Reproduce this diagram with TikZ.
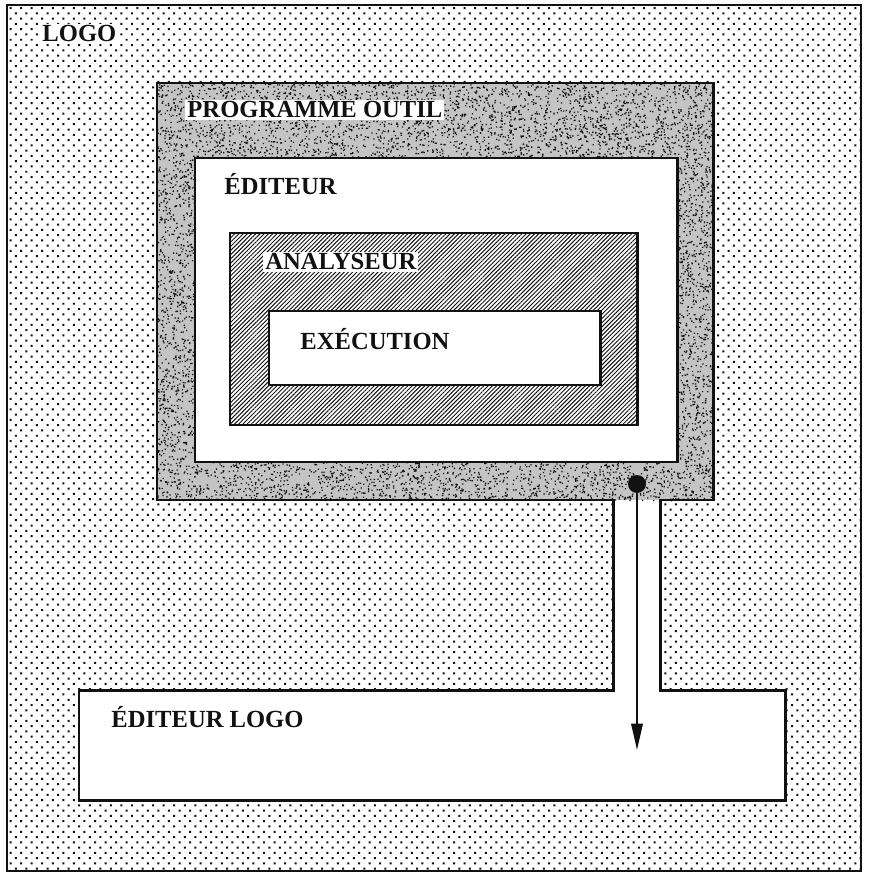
\documentclass[tikz,border=0pt]{standalone}
\usepackage{fontspec}
\setmainfont{Liberation Serif}
\usetikzlibrary{arrows.meta,patterns.meta}
\definecolor{ink}{HTML}{111111}
\definecolor{grain}{HTML}{C4C4C4}
\tikzset{
  wall/.style={draw=ink,line width=1.7pt},
  pane/.style={wall,fill=white},
  dotted bg/.style={pattern={Dots[distance=4.25pt,angle=45,radius=0.8pt]},pattern color=ink},
  hatched bg/.style={pattern={Lines[angle=45,distance=1.7pt,line width=0.55pt]},pattern color=ink},
  tag/.style={anchor=base west,inner sep=1.2pt,text=ink,
              font=\fontsize{14pt}{16pt}\selectfont\bfseries},
  blob/.style={circle,fill=ink,inner sep=0pt,minimum size=0.36cm},
  arrow/.style={-{Triangle[width=6.5pt,length=15pt]},line width=1.15pt,draw=ink}
}
\begin{document}
\begin{tikzpicture}[x=0.02cm,y=-0.02cm]
\useasboundingbox (0,0) rectangle (868,874);
% LOGO background
\path[dotted bg] (7,5) rectangle (861,871);
\draw[draw=ink,line width=1.4pt] (7,5) rectangle (861,871);
% programme outil + channel + editeur logo
\fill[white] (157,83) -- (713,83) -- (713,500) -- (660,500) -- (660,690)
  -- (785,690) -- (785,800) -- (79,800) -- (79,690) -- (613,690)
  -- (613,500) -- (157,500) -- cycle;
\fill[grain] (157,83) rectangle (713,500);
\pgfmathsetseed{1984}
\foreach \xa/\ya/\w/\h/\n in {157/83/556/75/3000,157/462/556/38/1500,
                              157/158/38/304/820,677/158/36/304/780}
  \fill[ink] foreach \i in {1,...,\n}
    {({\xa+\w*rnd},{\ya+\h*rnd}) rectangle +(1.3,1.3)};
\draw[wall] (157,83) -- (713,83) -- (713,500) -- (660,500) -- (660,690)
  -- (785,690) -- (785,800) -- (79,800) -- (79,690) -- (613,690)
  -- (613,500) -- (157,500) -- cycle;
% nested boxes
\draw[pane] (195,158) rectangle (677,462);
\path[hatched bg] (230,233) rectangle (637,425);
\draw[wall] (230,233) rectangle (637,425);
\draw[pane] (269,311) rectangle (600,385);
% labels
\node[tag,fill=white] (logo) at (40,42) {LOGO};
\node[tag,fill=white] (outil) at (185,118) {PROGRAMME OUTIL};
\node[tag] (editeur) at (222,195) {ÉDITEUR};
\node[tag,fill=white] (analyseur) at (263,270) {ANALYSEUR};
\node[tag] (execution) at (298,349) {EXÉCUTION};
\node[tag] (editlogo) at (109,727) {ÉDITEUR LOGO};
% sortie vers l'editeur logo
\node[blob] (out) at (637,484) {};
\coordinate (tip) at (637,750);
\draw[arrow] (out.center) -- (tip);
\end{tikzpicture}
\end{document}
